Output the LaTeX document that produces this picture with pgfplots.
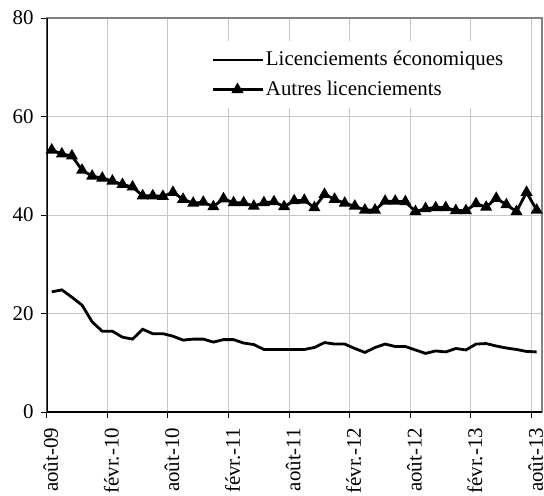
\documentclass[border=0pt]{standalone}
\usepackage{fontspec}
\setmainfont{Liberation Serif}
\usepackage{pgfplots}
\pgfplotsset{compat=1.18}
\usepackage{pgfplotstable}
\definecolor{gridc}{RGB}{200,200,200}
\definecolor{framec}{RGB}{130,130,130}
\newcommand\f{\fontsize{10.45}{12.5}\selectfont}

\pgfplotstableread{
x eco autres
0.5 24.4 53.2
1.5 24.8 52.4
2.5 23.3 52.0
3.5 21.7 49.1
4.5 18.3 47.9
5.5 16.4 47.5
6.5 16.4 46.9
7.5 15.2 46.2
8.5 14.8 45.7
9.5 16.8 43.9
10.5 15.9 43.9
11.5 15.9 43.8
12.5 15.4 44.6
13.5 14.6 43.2
14.5 14.8 42.4
15.5 14.8 42.6
16.5 14.2 41.7
17.5 14.7 43.3
18.5 14.7 42.5
19.5 14.0 42.5
20.5 13.7 41.8
21.5 12.7 42.5
22.5 12.7 42.7
23.5 12.7 41.7
24.5 12.7 42.9
25.5 12.7 43.0
26.5 13.1 41.5
27.5 14.1 44.2
28.5 13.8 43.2
29.5 13.8 42.4
30.5 12.9 41.8
31.5 12.1 41.0
32.5 13.1 41.0
33.5 13.8 42.8
34.5 13.3 42.8
35.5 13.3 42.7
36.5 12.6 40.7
37.5 11.9 41.3
38.5 12.4 41.5
39.5 12.2 41.5
40.5 12.9 40.9
41.5 12.6 40.9
42.5 13.8 42.3
43.5 13.9 41.6
44.5 13.4 43.4
45.5 13.0 42.1
46.5 12.7 40.7
47.5 12.3 44.6
48.5 12.2 41.0
}\data

\begin{document}
\begin{tikzpicture}
\begin{axis}[
  at={(0,0)}, anchor=south west,
  scale only axis, width=247.5pt, height=197pt,
  xmin=0, xmax=49, ymin=0, ymax=80,
  ytick={0,20,...,80},
  xtick={0,6,...,48},
  xticklabels={août-09,févr.-10,août-10,févr.-11,août-11,févr.-12,août-12,févr.-13,août-13},
  xticklabel style={rotate=90, anchor=east, xshift=-1.5pt, yshift=-2.0pt, font=\f},
  yticklabel style={font=\f},
  /pgf/number format/assume math mode=true,
  tick align=outside, major tick length=3pt,
  tick style={black, line width=0.5pt},
  xtick pos=left, ytick pos=left,
  grid=major, major grid style={gridc, line width=0.5pt},
  axis line style={framec, line width=0.8pt},
  legend style={at={(rel axis cs:0.3152,0.8560)}, anchor=west, draw=none, fill=white,
    inner sep=4pt, font=\f, row sep=4pt, nodes={inner sep=1pt}},
  legend cell align=left,
  legend image code/.code={\draw[mark repeat=2,mark phase=2,#1] plot coordinates {(0pt,0pt) (12.5pt,0pt) (25pt,0pt)};},
]
\addplot[black, line width=1.4pt, mark=none] table[x=x, y=eco] {\data};
\addlegendentry{Licenciements économiques}
\addplot[black, line width=1.4pt, mark=triangle*, mark size=2.1pt, mark options={solid}] table[x=x, y=autres] {\data};
\addlegendentry{Autres licenciements}
\draw[black, line width=1pt] (axis cs:0,80) -- (axis cs:0,0) -- (axis cs:49,0);
\end{axis}
\pgfresetboundingbox
\path[use as bounding box] (-23.35pt,-41.5pt) rectangle (248.65pt,206pt);
\end{tikzpicture}
\end{document}
